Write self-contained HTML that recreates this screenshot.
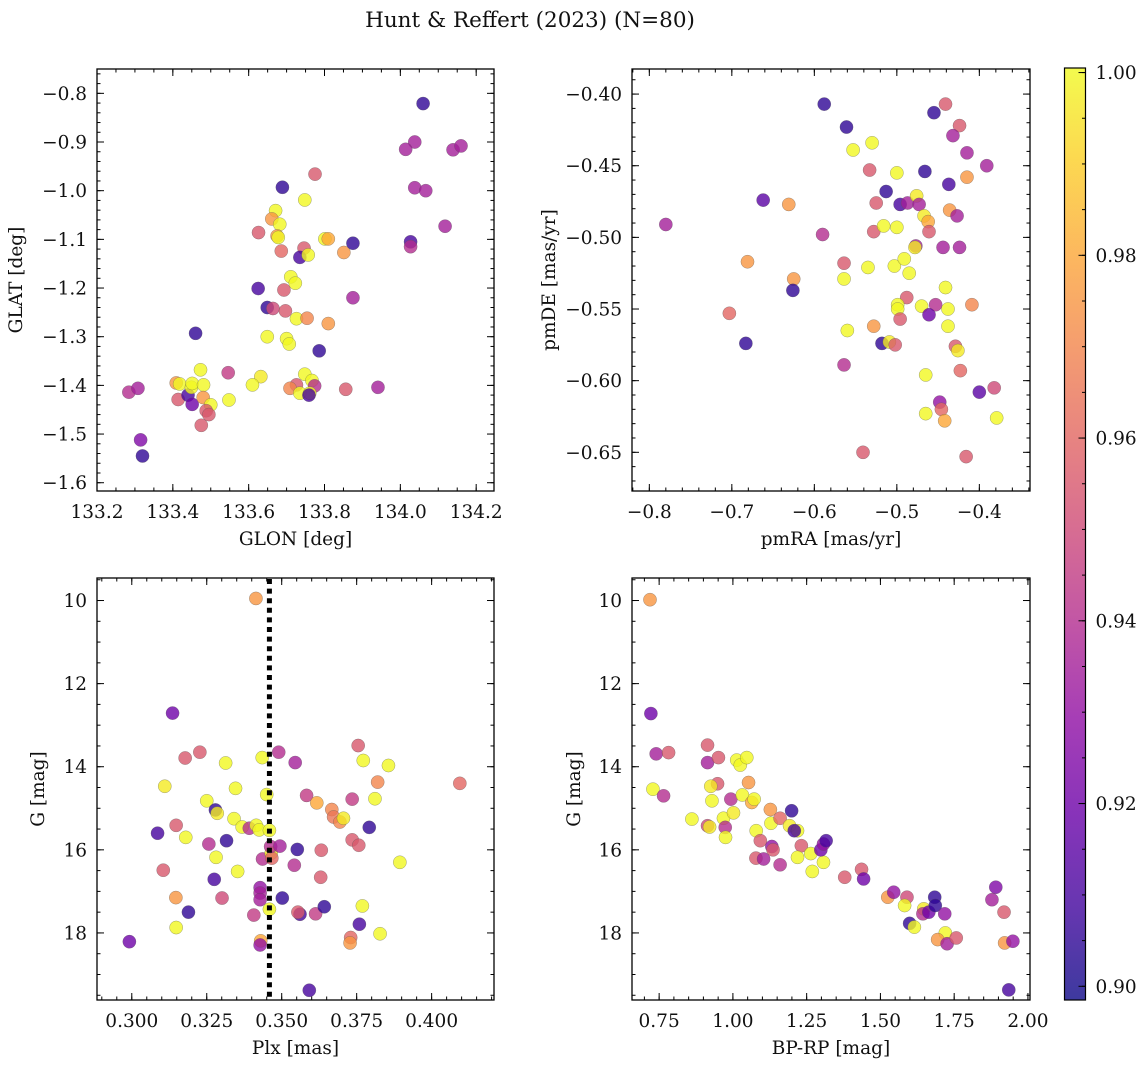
<!DOCTYPE html>
<html><head><meta charset="utf-8"><title>Hunt & Reffert (2023)</title>
<style>
html,body{margin:0;padding:0;background:#fff;}
svg{display:block;font-family:"DejaVu Serif","Liberation Serif",serif;}
</style></head>
<body>
<svg id="fig" width="1148" height="1068" viewBox="0 0 1148 1068" xmlns="http://www.w3.org/2000/svg">
<defs>
<linearGradient id="plasmaGrad" x1="0" y1="1" x2="0" y2="0">
<stop offset="0" stop-color="#0d0887"/><stop offset="0.1" stop-color="#41049d"/><stop offset="0.2" stop-color="#6a00a8"/><stop offset="0.3" stop-color="#8f0da4"/><stop offset="0.4" stop-color="#b12a90"/><stop offset="0.5" stop-color="#cc4778"/><stop offset="0.6" stop-color="#e16462"/><stop offset="0.7" stop-color="#f2844b"/><stop offset="0.8" stop-color="#fca636"/><stop offset="0.9" stop-color="#fcce25"/><stop offset="1" stop-color="#f0f921"/>
</linearGradient>
</defs>
<text x="530" y="27" text-anchor="middle" font-size="21.5" fill="#111">Hunt &amp; Reffert (2023) (N=80)</text>
</svg>
<script>
// ---- Top-left: GLON vs GLAT ----
const tlGlon=[134.06,134.038,134.014,134.139,134.16,134.038,134.067,134.118,134.027,134.027,133.689,133.775,133.748,133.671,133.661,133.682,133.626,133.675,133.678,133.686,133.746,133.735,133.757,133.801,133.81,133.851,133.875,133.711,133.723,133.625,133.693,133.875,133.649,133.664,133.697,133.726,133.754,133.81,133.649,133.7,133.707,133.46,133.786,133.473,133.546,133.632,133.61,133.748,133.767,133.774,133.726,133.709,133.735,133.761,133.759,133.856,133.941,133.284,133.308,133.315,133.32,133.409,133.418,133.414,133.44,133.451,133.449,133.451,133.481,133.48,133.5,133.488,133.495,133.475,133.548];
const tlGlat=[-0.821,-0.9,-0.915,-0.916,-0.908,-0.994,-1.0,-1.073,-1.105,-1.115,-0.993,-0.966,-1.019,-1.041,-1.058,-1.069,-1.086,-1.093,-1.096,-1.124,-1.118,-1.137,-1.132,-1.099,-1.099,-1.127,-1.108,-1.177,-1.19,-1.201,-1.204,-1.22,-1.24,-1.242,-1.247,-1.263,-1.262,-1.273,-1.3,-1.304,-1.315,-1.293,-1.329,-1.368,-1.374,-1.382,-1.399,-1.377,-1.39,-1.401,-1.399,-1.406,-1.416,-1.416,-1.42,-1.408,-1.404,-1.414,-1.406,-1.512,-1.545,-1.395,-1.397,-1.429,-1.42,-1.439,-1.404,-1.396,-1.399,-1.425,-1.44,-1.452,-1.46,-1.482,-1.43];
const tlProb=[.905,.935,.935,.935,.935,.935,.935,.935,.91,.94,.905,.955,1,1,.975,1,.955,.975,1,.96,.955,.91,1,1,.98,.975,.905,1,1,.91,.955,.935,.905,.95,.955,1,.97,.975,1,1,1,.905,.905,1,.945,.997,1,1,1,.94,.955,.97,1,1,.91,.955,.935,.94,.935,.925,.905,.975,1,.955,.91,.92,1,1,1,.975,1,.955,.955,.955,1];
const tlXTicks=[133.2,133.4,133.6,133.8,134.0,134.2];
const tlYTicks=[-0.8,-0.9,-1.0,-1.1,-1.2,-1.3,-1.4,-1.5,-1.6];

// ---- Top-right: pmRA vs pmDE ----
const trPmra=[-0.780,-0.662,-0.631,-0.681,-0.625,-0.626,-0.703,-0.683,-0.588,-0.561,-0.553,-0.530,-0.533,-0.590,-0.525,-0.513,-0.528,-0.516,-0.500,-0.500,-0.496,-0.487,-0.476,-0.473,-0.467,-0.462,-0.461,-0.477,-0.478,-0.466,-0.455,-0.441,-0.424,-0.432,-0.415,-0.391,-0.415,-0.437,-0.436,-0.427,-0.444,-0.424,-0.564,-0.564,-0.535,-0.503,-0.491,-0.485,-0.441,-0.488,-0.499,-0.499,-0.496,-0.470,-0.453,-0.461,-0.438,-0.409,-0.438,-0.560,-0.528,-0.518,-0.509,-0.502,-0.429,-0.426,-0.564,-0.465,-0.423,-0.400,-0.382,-0.448,-0.446,-0.465,-0.442,-0.379,-0.541,-0.416];
const trPmde=[-0.491,-0.474,-0.477,-0.517,-0.529,-0.537,-0.553,-0.574,-0.407,-0.423,-0.439,-0.434,-0.453,-0.498,-0.476,-0.468,-0.496,-0.492,-0.455,-0.493,-0.477,-0.476,-0.471,-0.477,-0.485,-0.489,-0.496,-0.506,-0.507,-0.454,-0.413,-0.407,-0.422,-0.429,-0.441,-0.450,-0.458,-0.463,-0.481,-0.485,-0.507,-0.507,-0.518,-0.529,-0.521,-0.520,-0.515,-0.525,-0.535,-0.542,-0.547,-0.550,-0.557,-0.548,-0.547,-0.554,-0.550,-0.547,-0.562,-0.565,-0.562,-0.574,-0.573,-0.575,-0.576,-0.579,-0.589,-0.596,-0.593,-0.608,-0.605,-0.615,-0.620,-0.623,-0.628,-0.626,-0.650,-0.653];
const trProb=[.935,.915,.975,.975,.975,.905,.96,.905,.905,.905,1,1,.955,.94,.955,.905,.955,1,1,1,.91,.935,.997,.935,.997,.98,.955,.935,.997,.905,.905,.955,.955,.935,.935,.935,.975,.91,.975,.935,.935,.935,.955,1,1,1,1,1,1,.955,1,1,.955,1,.94,.92,1,.97,1,1,.975,.905,.997,.955,.955,.997,.94,1,.96,.915,.95,.93,.96,1,.98,1,.955,.955];
const trXTicks=[-0.8,-0.7,-0.6,-0.5,-0.4];
const trYTicks=[-0.40,-0.45,-0.50,-0.55,-0.60,-0.65];

// ---- Bottom-left: Plx vs G ----
const blPlx=[0.3414,0.3136,0.3178,0.3227,0.3110,0.3313,0.3435,0.3490,0.3545,0.3346,0.3450,0.3250,0.3279,0.3285,0.3583,0.3617,0.3667,0.3673,0.3694,0.3706,0.3735,0.3755,0.3772,0.3856,0.3820,0.3811,0.4094,0.3792,0.3735,0.3757,0.3894,0.3086,0.3148,0.3180,0.3257,0.3316,0.3341,0.3368,0.3392,0.3415,0.3425,0.3459,0.3281,0.3353,0.3105,0.3275,0.3436,0.3465,0.3467,0.3463,0.3494,0.3552,0.3542,0.3632,0.3630,0.3147,0.3301,0.3189,0.3148,0.2992,0.3428,0.3428,0.3428,0.3459,0.3407,0.3430,0.3428,0.3502,0.3561,0.3554,0.3613,0.3642,0.3769,0.3759,0.3828,0.3730,0.3728,0.3592];
const blG=[9.95,12.71,13.79,13.65,14.47,13.91,13.78,13.65,13.9,14.52,14.67,14.82,15.04,15.12,14.69,14.87,15.03,15.21,15.33,15.24,14.78,13.49,13.85,13.97,14.37,14.77,14.4,15.46,15.76,15.89,16.3,15.6,15.41,15.7,15.86,15.78,15.25,15.45,15.48,15.41,15.52,15.53,16.18,16.52,16.49,16.71,16.22,16.08,16.2,15.92,15.91,15.99,16.37,16.01,16.66,17.15,17.16,17.5,17.87,18.21,16.91,17.04,17.2,17.43,17.57,18.19,18.29,17.16,17.55,17.5,17.54,17.37,17.35,17.79,18.02,18.11,18.24,19.38];
const blProb=[.975,.92,.955,.955,.997,1,1,.94,.935,1,1,1,.905,.997,.945,.98,.97,.965,.97,.997,.945,.955,1,1,.97,1,.96,.905,.955,.955,1,.91,.955,1,.94,.905,1,1,.94,1,1,1,1,1,.955,.91,.94,.997,.96,.94,.935,.905,.94,.955,.955,.975,.95,.905,1,.92,.93,.935,.935,1,.945,.98,.93,.905,.91,.955,.945,.905,1,.91,1,.96,.975,.91];
const blXTicks=[0.300,0.325,0.350,0.375,0.400];
const blYTicks=[10,12,14,16,18];
const plxRef=[0.3459];

// ---- Bottom-right: BP-RP vs G ----
const brBprp=[0.719,0.722,0.74,0.782,0.729,0.765,0.861,0.914,0.914,0.951,0.948,0.925,0.929,0.914,0.921,0.968,0.974,0.975,0.993,1.002,1.013,1.025,1.047,1.053,1.032,1.064,1.072,1.079,1.093,1.078,1.104,1.132,1.136,1.16,1.127,1.129,1.16,1.199,1.192,1.219,1.208,1.232,1.219,1.264,1.269,1.307,1.298,1.307,1.316,1.379,1.436,1.443,1.525,1.545,1.59,1.582,1.599,1.615,1.647,1.644,1.664,1.684,1.686,1.718,1.72,1.694,1.726,1.757,1.891,1.878,1.919,1.921,1.949,1.935];
const brG=[9.98,12.72,13.69,13.66,14.54,14.7,15.26,13.48,13.9,13.78,14.41,14.47,14.82,15.42,15.45,15.24,15.46,15.7,14.78,15.11,13.84,13.96,13.78,14.38,14.68,14.86,14.78,15.54,15.78,16.2,16.22,15.92,16.0,16.36,15.03,15.36,15.24,15.06,15.42,15.54,15.54,15.9,16.18,16.09,16.52,16.3,16.0,15.86,15.78,16.66,16.47,16.7,17.14,17.02,17.14,17.34,17.77,17.86,17.42,17.54,17.5,17.14,17.34,17.54,18.0,18.16,18.26,18.12,16.9,17.2,17.5,18.24,18.2,19.37];
const brProb=[.975,.92,.935,.955,1,.94,1,.955,.935,.955,.955,.997,1,.95,.997,1,.94,1,.94,.997,1,1,1,.975,1,.98,1,1,.955,.955,.935,.93,.955,.94,.975,1,.96,.905,.997,1,.91,.955,1,1,1,1,.92,.93,.91,.955,.955,.92,.975,.93,.95,1,.905,1,.997,.94,.92,.905,.905,.93,1,.975,.935,.955,.925,.935,.955,.975,.93,.91];
const brXTicks=[0.75,1.00,1.25,1.50,1.75,2.00];
const brYTicks=[10,12,14,16,18];

const cbTicks=[0.90,0.92,0.94,0.96,0.98,1.00];
const VMIN=0.8985, VMAX=1.0005;

const NS="http://www.w3.org/2000/svg";
const svg=document.getElementById('fig');
const FS=18.5;
const stops=[[0,13,8,135],[0.1,65,4,157],[0.2,106,0,168],[0.3,143,13,164],[0.4,177,42,144],[0.5,204,71,120],[0.6,225,100,98],[0.7,242,132,75],[0.8,252,166,54],[0.9,252,206,37],[1,240,249,33]];
function plasma(t){t=Math.max(0,Math.min(1,t));for(let i=1;i<stops.length;i++){if(t<=stops[i][0]){const a=stops[i-1],b=stops[i];const f=(t-a[0])/(b[0]-a[0]);return 'rgb('+[1,2,3].map(k=>Math.round(a[k]+(b[k]-a[k])*f)).join(',')+')';}}return 'rgb(240,249,33)';}
function mk(tag,attrs,parent){const e=document.createElementNS(NS,tag);for(const k in attrs)e.setAttribute(k,attrs[k]);(parent||svg).appendChild(e);return e;}
function fmt(v,d){const s=Math.abs(v).toFixed(d);return (v<0?'\u2212':'')+s;}

function panel(name,box,xd,yd,xTicks,yTicks,xMinor,yMinor,xDec,yDec,xLabel,yLabel,yLabelX){
  const g=mk('g',{});
  
  
  const sx=v=>box.l+(v-xd[0])/(xd[1]-xd[0])*(box.r-box.l);
  const sy=v=>box.b-(v-yd[0])/(yd[1]-yd[0])*(box.b-box.t);
  const tk=mk('g',{stroke:'#000','stroke-width':1},g);
  
  
  const eps=1e-9;
  const xs=Math.min(xd[0],xd[1]),xe=Math.max(xd[0],xd[1]);
  for(let v=Math.ceil(xs/xMinor-eps)*xMinor;v<=xe+eps;v+=xMinor){const x=sx(v);if(x<box.l-0.5||x>box.r+0.5)continue;mk('line',{x1:x,x2:x,y1:box.b,y2:box.b-3.5},tk);mk('line',{x1:x,x2:x,y1:box.t,y2:box.t+3.5},tk);}
  const ys=Math.min(yd[0],yd[1]),ye=Math.max(yd[0],yd[1]);
  for(let v=Math.ceil(ys/yMinor-eps)*yMinor;v<=ye+eps;v+=yMinor){const y=sy(v);if(y<box.t-0.5||y>box.b+0.5)continue;mk('line',{x1:box.l,x2:box.l+3.5,y1:y,y2:y},tk);mk('line',{x1:box.r,x2:box.r-3.5,y1:y,y2:y},tk);}
  xTicks.forEach(v=>{const x=sx(v);mk('line',{x1:x,x2:x,y1:box.b,y2:box.b-7},tk);mk('line',{x1:x,x2:x,y1:box.t,y2:box.t+7},tk);
    const t=mk('text',{x:x,y:box.b+27,'text-anchor':'middle','font-size':FS,fill:'#111'},g);t.textContent=fmt(v,xDec);
    
    });
  yTicks.forEach(v=>{const y=sy(v);mk('line',{x1:box.l,x2:box.l+7,y1:y,y2:y},tk);mk('line',{x1:box.r,x2:box.r-7,y1:y,y2:y},tk);
    const t=mk('text',{x:box.l-10,y:y+6.5,'text-anchor':'end','font-size':FS,fill:'#111'},g);t.textContent=fmt(v,yDec);
    
    });
  const xl=mk('text',{x:(box.l+box.r)/2,y:box.b+54,'text-anchor':'middle','font-size':FS,fill:'#111'},g);xl.textContent=xLabel;
  
  
  const yc=(box.t+box.b)/2;
  const yl=mk('text',{x:yLabelX,y:yc,'text-anchor':'middle','font-size':FS,fill:'#111',transform:'rotate(-90 '+yLabelX+' '+yc+')'},g);yl.textContent=yLabel;
  
  
  const pts=mk('g',{},g);
  
  
  const fr=mk('rect',{x:box.l,y:box.t,width:box.r-box.l,height:box.b-box.t,fill:'none',stroke:'#000','stroke-width':1.3},g);
  
  
  return {sx,sy,pts,g};
}
function scatter(p,xs,ys,cs){
  for(let i=0;i<xs.length;i++){
    const c=mk('circle',{cx:p.sx(xs[i]),cy:p.sy(ys[i]),r:6.6,fill:plasma((cs[i]-VMIN)/(VMAX-VMIN)),'fill-opacity':0.8,stroke:'#555','stroke-opacity':0.55,'stroke-width':0.5},p.pts);
    
    
  }
}

const pTL=panel('glon-glat-panel',{l:97,t:69,r:494,b:491},[133.2,134.247],[-1.617,-0.75],tlXTicks,tlYTicks,0.05,0.02,1,1,'GLON [deg]','GLAT [deg]',22);
scatter(pTL,tlGlon,tlGlat,tlProb);
const pTR=panel('pm-panel',{l:632,t:69,r:1030,b:491},[-0.821,-0.3386],[-0.677,-0.3825],trXTicks,trYTicks,0.02,0.01,1,2,'pmRA [mas/yr]','pmDE [mas/yr]',555);
scatter(pTR,trPmra,trPmde,trProb);
const pBL=panel('plx-g-panel',{l:97,t:578,r:494,b:1000},[0.2884,0.4208],[19.614,9.458],blXTicks,blYTicks,0.005,0.5,3,0,'Plx [mas]','G [mag]',44);
scatter(pBL,blPlx,blG,blProb);
plxRef.forEach(v=>{const x=pBL.sx(v);const l=mk('line',{x1:x,x2:x,y1:579,y2:1000,stroke:'#000','stroke-width':5,'stroke-dasharray':'5,4.6'},pBL.g);
  
  });
const pBR=panel('cmd-panel',{l:632,t:578,r:1030,b:1000},[0.658,2.007],[19.614,9.458],brXTicks,brYTicks,0.05,0.5,2,0,'BP-RP [mag]','G [mag]',580);
scatter(pBR,brBprp,brG,brProb);

// colorbar
const cb=mk('g',{});


const cbT=68,cbB=1000,cbL=1064.5,cbR=1085.5;
const cbY=v=>cbB-(v-VMIN)/(VMAX-VMIN)*(cbB-cbT);
const grad=mk('rect',{x:cbL,y:cbT,width:cbR-cbL,height:cbB-cbT,fill:'url(#plasmaGrad)','fill-opacity':0.8},cb);


for(let v=0.9;v<=1.0005;v+=0.005){const y=cbY(v);mk('line',{x1:cbR,x2:cbR-3.5,y1:y,y2:y,stroke:'#000','stroke-width':1},cb);}
cbTicks.forEach(v=>{const y=cbY(v);mk('line',{x1:cbR,x2:cbR-7,y1:y,y2:y,stroke:'#000','stroke-width':1},cb);
  const t=mk('text',{x:cbR+10,y:y+6.5,'font-size':FS,fill:'#111'},cb);t.textContent=v.toFixed(2);
  
  });
mk('rect',{x:cbL,y:cbT,width:cbR-cbL,height:cbB-cbT,fill:'none',stroke:'#000','stroke-width':1.2},cb);
</script>
</body></html>
